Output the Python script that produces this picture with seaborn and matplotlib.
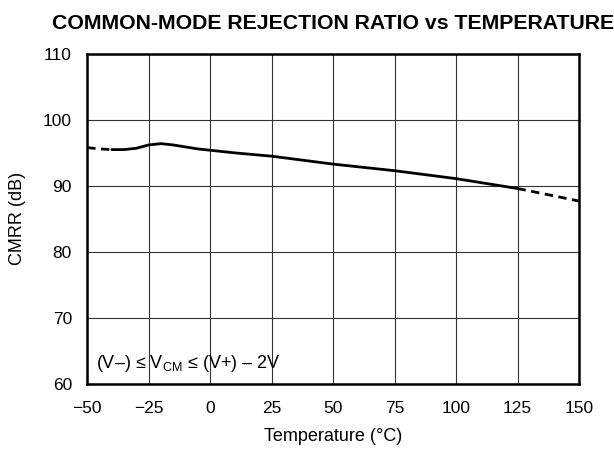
import matplotlib
matplotlib.use("Agg")
import matplotlib.pyplot as plt
import seaborn as sns
import pandas as pd

# CMRR curve
temps = [-50, -45, -40, -35, -30, -25, -20, -15, -10, -5, 0, 10, 25, 50, 75, 100, 125, 137, 150]
cmrr = [95.8, 95.6, 95.5, 95.5, 95.7, 96.2, 96.4, 96.2, 95.9, 95.6, 95.4, 95.0, 94.5, 93.3, 92.3, 91.1, 89.6, 88.7, 87.7]
x_ticks = [-50, -25, 0, 25, 50, 75, 100, 125, 150]
x_labels = ["\u221250", "\u221225", "0", "25", "50", "75", "100", "125", "150"]
y_ticks = [60, 70, 80, 90, 100, 110]

df = pd.DataFrame({"temp": temps, "cmrr": cmrr})
solid = df[(df.temp >= -40) & (df.temp <= 125)]
dash_lo = df[df.temp <= -40]
dash_hi = df[df.temp >= 125]

sns.set_style("white")
plt.rcParams["font.family"] = ["Liberation Sans", "DejaVu Sans"]
plt.rcParams["mathtext.fontset"] = "custom"
plt.rcParams["mathtext.rm"] = "Liberation Sans"
plt.rcParams["text.color"] = "black"
plt.rcParams["axes.labelcolor"] = "black"

fig = plt.figure(figsize=(6.14, 4.49), dpi=100)
ax = fig.add_axes([0.142, 0.145, 0.801, 0.735])

sns.lineplot(data=solid, x="temp", y="cmrr", ax=ax, color="black", lw=2.0)
sns.lineplot(data=dash_lo, x="temp", y="cmrr", ax=ax, color="black", lw=2.0, linestyle=(0, (3, 2)))
sns.lineplot(data=dash_hi, x="temp", y="cmrr", ax=ax, color="black", lw=2.0, linestyle=(0, (3, 2)))

ax.set_xlim(-50, 150)
ax.set_ylim(60, 110)
ax.set_xticks(x_ticks)
ax.set_xticklabels(x_labels)
ax.set_yticks(y_ticks)
ax.tick_params(length=0, labelsize=12.5, colors="black")
ax.tick_params(axis="x", pad=12)
ax.tick_params(axis="y", pad=11)
ax.grid(True, color="#333333", lw=0.8)
for s in ax.spines.values():
    s.set_visible(True)
    s.set_color("black")
    s.set_linewidth(1.8)

ax.set_xlabel("Temperature (\u00b0C)", fontsize=13, labelpad=9)
ax.set_ylabel("CMRR (dB)", fontsize=13, labelpad=12)
ax.set_title("COMMON-MODE REJECTION RATIO vs TEMPERATURE", fontsize=15.3,
             fontweight="bold", pad=18)
ax.text(-46.5, 61.5, "(V\u2013) \u2264 V$_{\\mathrm{CM}}$ \u2264 (V+) \u2013 2V", fontsize=13,
        ha="left", va="bottom")

fig.savefig("out.png", dpi=100)
